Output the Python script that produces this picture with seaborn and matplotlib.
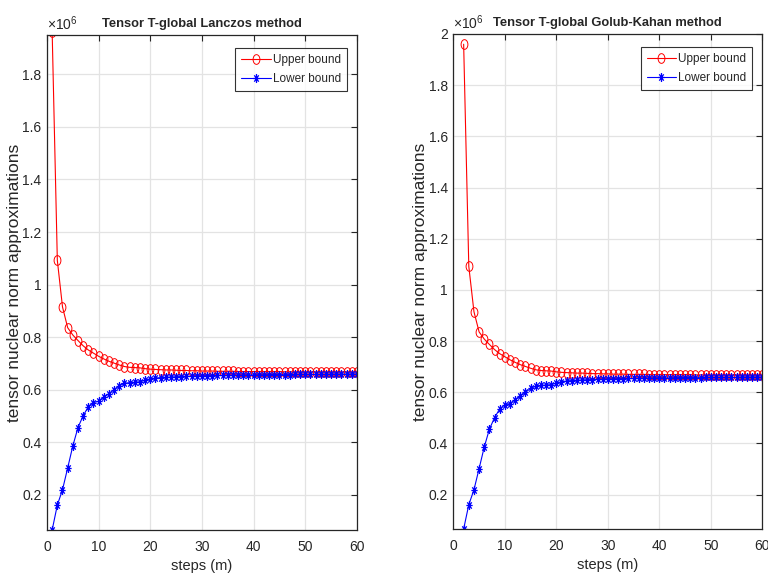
import numpy as np
import matplotlib
matplotlib.use('Agg')
import matplotlib.pyplot as plt
import seaborn as sns
from matplotlib.path import Path

# values in units of 1e6
upper_bound = [1.960, 1.092, 0.915, 0.836, 0.808, 0.787, 0.767, 0.751, 0.739, 0.727,
               0.717, 0.708, 0.701, 0.694, 0.688, 0.685, 0.684, 0.683, 0.680, 0.678,
               0.677, 0.676, 0.675, 0.675, 0.674, 0.673, 0.673, 0.672, 0.672, 0.671,
               0.671, 0.671, 0.670, 0.670, 0.670, 0.670, 0.669, 0.669, 0.669, 0.669,
               0.669, 0.669, 0.669, 0.669, 0.669, 0.668, 0.668, 0.668, 0.668, 0.668,
               0.668, 0.668, 0.668, 0.668, 0.668, 0.668, 0.668, 0.668, 0.668, 0.668]
lower_bound = [0.066, 0.161, 0.219, 0.302, 0.386, 0.456, 0.501, 0.535, 0.551, 0.556,
               0.571, 0.585, 0.600, 0.615, 0.624, 0.627, 0.628, 0.630, 0.636, 0.641,
               0.644, 0.646, 0.647, 0.648, 0.649, 0.650, 0.651, 0.651, 0.652, 0.652,
               0.653, 0.653, 0.654, 0.654, 0.654, 0.655, 0.655, 0.655, 0.656, 0.656,
               0.656, 0.656, 0.657, 0.657, 0.657, 0.657, 0.657, 0.658, 0.658, 0.658,
               0.658, 0.658, 0.658, 0.658, 0.659, 0.659, 0.659, 0.659, 0.659, 0.659]
steps_lanczos = list(range(1, 61))
steps_gk = list(range(2, 61))

titles = ['Tensor T-global Lanczos method', 'Tensor T-global Golub-Kahan method']
ylims = [(0.066, 1.95), (0.066, 2.0)]
yticks = [[0.2, 0.4, 0.6, 0.8, 1.0, 1.2, 1.4, 1.6, 1.8],
          [0.2, 0.4, 0.6, 0.8, 1.0, 1.2, 1.4, 1.6, 1.8, 2.0]]
xticks = [0, 10, 20, 30, 40, 50, 60]

sns.set_style('white')
plt.rcParams['font.family'] = ['Liberation Sans', 'DejaVu Sans']
plt.rcParams['mathtext.fontset'] = 'custom'
plt.rcParams['mathtext.rm'] = 'Liberation Sans'

TXT = '#262626'


def squeezed(path, sx=0.7):
    # the original figure is squashed sideways, so markers are narrow
    return Path(path.vertices * np.array([sx, 1.0]), path.codes)


circle = squeezed(Path.unit_circle())
a = np.sqrt(0.5)
star = squeezed(Path([(-1, 0), (1, 0), (0, -1), (0, 1), (-a, -a), (a, a), (-a, a), (a, -a)],
                     [Path.MOVETO, Path.LINETO] * 4))


def fmt(v):
    return '%g' % v


fig = plt.figure(figsize=(7.68, 5.86), dpi=100)
rects = [[0.0612, 0.0956, 0.4036, 0.8447], [0.5903, 0.0973, 0.4023, 0.8447]]
datasets = [(steps_lanczos, upper_bound, lower_bound),
            (steps_gk, upper_bound[:len(steps_gk)], lower_bound[:len(steps_gk)])]

for i in range(2):
    ax = fig.add_axes(rects[i])
    x, up, lo = datasets[i]
    sns.lineplot(x=x, y=up, ax=ax, color='red', lw=0.8, marker=circle, markersize=7,
                 mfc='none', mec='red', mew=0.7, label='Upper bound')
    sns.lineplot(x=x, y=lo, ax=ax, color='blue', lw=0.8, marker=star, markersize=6.5,
                 mfc='none', mec='blue', mew=0.9, label='Lower bound')
    ax.set_xlim(0, 60)
    ax.set_ylim(*ylims[i])
    ax.set_xticks(xticks)
    ax.set_yticks(yticks[i])
    ax.set_xticklabels([fmt(t) for t in xticks])
    ax.set_yticklabels([fmt(t) for t in yticks[i]])
    ax.grid(True, color='#e3e3e3', lw=0.9)
    ax.tick_params(direction='in', length=4, width=0.8, colors=TXT,
                   top=True, right=True, labelsize=10)
    ax.tick_params(axis='y', pad=4)
    ax.tick_params(axis='x', pad=7)
    for s in ax.spines.values():
        s.set_color(TXT)
        s.set_linewidth(0.9)
    ax.set_title(titles[i], fontsize=9.3, fontweight='bold', pad=6)
    ax.set_xlabel('steps (m)', fontsize=10.5, color=TXT, labelpad=4)
    ax.set_ylabel('tensor nuclear norm approximations', fontsize=12.5, color=TXT)
    ax.yaxis.set_label_coords(-0.082, 0.5)
    ax.text(0.0, 1.004, r'$\times$10$^{6}$', transform=ax.transAxes, fontsize=10,
            color=TXT, ha='left', va='bottom')
    leg = ax.legend(loc='upper right', bbox_to_anchor=(0.968, 0.974), borderaxespad=0,
                    fontsize=8.5, frameon=True, fancybox=False, edgecolor='black',
                    handlelength=2.5, borderpad=0.5, labelspacing=0.65, handletextpad=0.2)
    leg.get_frame().set_linewidth(0.8)

fig.savefig('out.png', dpi=100)
